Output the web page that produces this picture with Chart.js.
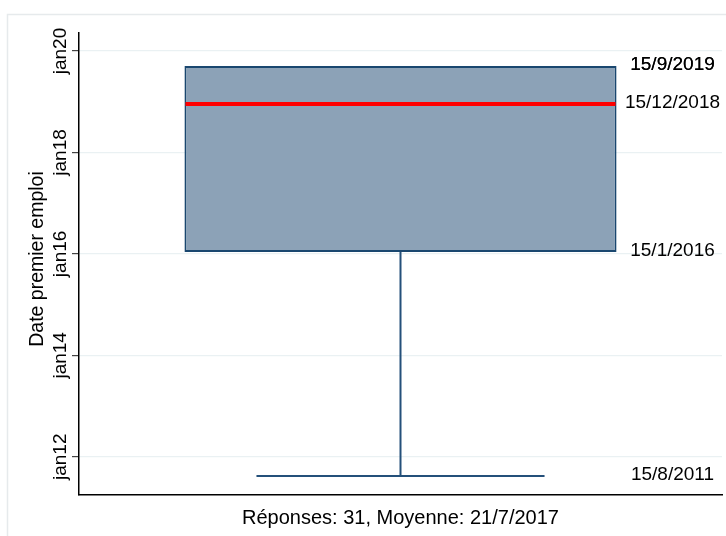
<!DOCTYPE html>
<html><head><meta charset="utf-8">
<script src="https://cdn.jsdelivr.net/npm/chart.js@4.4.1/dist/chart.umd.min.js"></script>
<style>html,body{margin:0;padding:0;background:#fff;overflow:hidden}canvas{display:block}</style>
</head><body>
<canvas id="c" width="726" height="536"></canvas>
<script>
// ---- data ----
const categories = ['Date premier emploi'];
const statNames  = ['min', 'q1', 'median', 'q3', 'max'];
const statDates  = ['2011-08-15', '2016-01-15', '2018-12-15', '2019-09-15', '2019-09-15'];
const statLabels = ['15/8/2011', '15/1/2016', '15/12/2018', '15/9/2019', '15/9/2019'];
const tickDates  = ['2012-01-01', '2014-01-01', '2016-01-01', '2018-01-01', '2020-01-01'];
const tickLabels = ['jan12', 'jan14', 'jan16', 'jan18', 'jan20'];
const axisRange  = ['2011-04-01', '2020-05-10'];
const yAxisTitle = 'Date premier emploi';
const xAxisTitle = 'Réponses: 31, Moyenne: 21/7/2017';

function decYear(s) {
  const [y, m, d] = s.split('-').map(Number);
  const a = Date.UTC(y, 0, 1), b = Date.UTC(y + 1, 0, 1);
  return y + (Date.UTC(y, m - 1, d) - a) / (b - a);
}
const stat = {};
statNames.forEach((n, i) => stat[n] = decYear(statDates[i]));
const tickValues = tickDates.map(decYear);

const FONT = '"Liberation Sans", Arial, Helvetica, sans-serif';
const NAVY = '#1a476f';

const boxPlugin = {
  id: 'boxPlugin',
  beforeDraw(chart) {
    const ctx = chart.ctx;
    ctx.save();
    ctx.strokeStyle = '#e6eaec';
    ctx.lineWidth = 1.5;
    ctx.strokeRect(7.5, 14.5, 900, 900);
    ctx.restore();
  },
  beforeDatasetsDraw(chart) {
    const ctx = chart.ctx, y = chart.scales.y;
    const bar = chart.getDatasetMeta(0).data[0];
    const half = bar.width / 3;
    ctx.save();
    ctx.strokeStyle = '#24507a';
    ctx.lineWidth = 2;
    [['q1', 'min'], ['q3', 'max']].forEach(([from, to]) => {
      if (stat[from] === stat[to]) return;
      const p1 = y.getPixelForValue(stat[from]);
      const p2 = y.getPixelForValue(stat[to]);
      ctx.beginPath();
      ctx.moveTo(bar.x, p1); ctx.lineTo(bar.x, p2);
      ctx.moveTo(bar.x - half, p2); ctx.lineTo(bar.x + half, p2);
      ctx.stroke();
    });
    ctx.restore();
  },
  afterDatasetsDraw(chart) {
    const ctx = chart.ctx, y = chart.scales.y, area = chart.chartArea;
    const bar = chart.getDatasetMeta(0).data[0];
    ctx.save();
    // median
    const pm = y.getPixelForValue(stat.median);
    ctx.strokeStyle = '#ff0000';
    ctx.lineWidth = 4;
    ctx.beginPath();
    ctx.moveTo(bar.x - bar.width / 2 + 1, pm);
    ctx.lineTo(bar.x + bar.width / 2 - 1, pm);
    ctx.stroke();
    // statistic labels
    ctx.fillStyle = '#000';
    ctx.font = '19px ' + FONT;
    ctx.textAlign = 'center';
    ctx.textBaseline = 'middle';
    statNames.forEach((n, i) => {
      ctx.fillText(statLabels[i], area.right - 49.5, y.getPixelForValue(stat[n]) - 1.5);
    });
    ctx.restore();
  },
  afterDraw(chart) {
    const ctx = chart.ctx, y = chart.scales.y, area = chart.chartArea;
    ctx.save();
    ctx.fillStyle = '#000';
    ctx.font = '19px ' + FONT;
    ctx.textAlign = 'center';
    ctx.textBaseline = 'middle';
    y.ticks.forEach((t, i) => {
      const py = y.getPixelForValue(t.value);
      ctx.save();
      ctx.translate(area.left - 18, py);
      ctx.rotate(-Math.PI / 2);
      ctx.fillText(t.label || tickLabels[i], 0, 0);
      ctx.restore();
    });
    ctx.font = '19.5px ' + FONT;
    ctx.save();
    ctx.translate(area.left - 41, (area.top + area.bottom) / 2 - 5);
    ctx.rotate(-Math.PI / 2);
    ctx.fillText(yAxisTitle, 0, 0);
    ctx.restore();
    ctx.restore();
  }
};

new Chart(document.getElementById('c'), {
  type: 'bar',
  data: {
    labels: categories,
    datasets: [{
      data: [[stat.q1, stat.q3]],
      backgroundColor: '#8ca2b7',
      borderColor: NAVY,
      borderWidth: 2,
      borderSkipped: false,
      barPercentage: 0.672,
      categoryPercentage: 1
    }]
  },
  options: {
    responsive: false,
    animation: false,
    devicePixelRatio: 1,
    layout: { padding: { top: 33, right: 4, bottom: 0, left: 0 } },
    plugins: { legend: { display: false }, tooltip: { enabled: false } },
    scales: {
      x: {
        grid: { display: false },
        border: { display: true, color: '#000', width: 1.5 },
        ticks: { display: false },
        title: {
          display: true, text: xAxisTitle, color: '#000',
          font: { family: FONT, size: 20 }, padding: { top: 0, bottom: 6 }
        },
        afterFit(s) { s.height = 41; }
      },
      y: {
        type: 'linear',
        min: decYear(axisRange[0]),
        max: decYear(axisRange[1]),
        afterBuildTicks(s) { s.ticks = tickValues.map(v => ({ value: v })); },
        ticks: { display: false, callback: (v, i) => tickLabels[i] },
        grid: { color: '#eaf1f3', lineWidth: 1.2, tickColor: '#444', tickLength: 7, drawTicks: true },
        border: { display: true, color: '#000', width: 1.5 },
        afterFit(s) { s.width = 79; }
      }
    }
  },
  plugins: [boxPlugin]
});
</script>
</body></html>
